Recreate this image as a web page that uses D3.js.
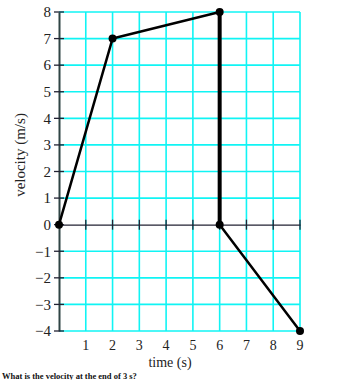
<!DOCTYPE html>
<html><head><meta charset="utf-8">
<script src="https://cdn.jsdelivr.net/npm/d3@7"></script>
<style>body{margin:0;background:#fff}svg{display:block}</style>
</head><body><svg id="c" width="356" height="380"></svg>
<script>
const times = [0, 2, 6, 6, 9];
const velocities = [0, 7, 8, 0, -4];
const xTicks = [1,2,3,4,5,6,7,8,9];
const yTicks = [-4,-3,-2,-1,0,1,2,3,4,5,6,7,8];
const xLabel = "time (s)";
const yLabel = "velocity (m/s)";
const question = "What is the velocity at the end of 3 s?";

const svg = d3.select("#c");
const font = "'Liberation Serif', 'DejaVu Serif', serif";
const x = d3.scaleLinear().domain([0,9]).range([59,300]);
const y = d3.scaleLinear().domain([-4,8]).range([331,12]);

// grid
const g = svg.append("g");
g.selectAll(".vx").data(xTicks).join("line")
  .attr("x1",d=>x(d)).attr("x2",d=>x(d)).attr("y1",y(8)).attr("y2",y(-4))
  .attr("stroke","#10f4f4").attr("stroke-width",1.6);
g.selectAll(".hy").data(yTicks.filter(d=>d!==0)).join("line")
  .attr("x1",x(0)).attr("x2",x(9)).attr("y1",d=>y(d)).attr("y2",d=>y(d))
  .attr("stroke","#10f4f4").attr("stroke-width",1.6);

// x axis at y=0
const xa = svg.append("g").attr("transform",`translate(0,${y(0)})`)
  .call(d3.axisBottom(x).tickValues(xTicks).tickSize(0).tickFormat(""));
xa.select(".domain").attr("stroke","#223").attr("stroke-width",1.3);
svg.append("g").selectAll("line").data(xTicks).join("line")
  .attr("x1",d=>x(d)).attr("x2",d=>x(d)).attr("y1",y(0)-5).attr("y2",y(0)+5)
  .attr("stroke","#223").attr("stroke-width",1.3);

// y axis
const ya = svg.append("g").attr("transform",`translate(${x(0)},0)`)
  .call(d3.axisLeft(y).tickValues(yTicks).tickSize(0).tickFormat(""));
ya.select(".domain").attr("stroke","#2f4444").attr("stroke-width",2);
svg.append("g").selectAll("line").data(yTicks).join("line")
  .attr("x1",x(0)-5).attr("x2",x(0)+5).attr("y1",d=>y(d)).attr("y2",d=>y(d))
  .attr("stroke","#223").attr("stroke-width",1.3);

// tick labels
svg.append("g").selectAll("text").data(yTicks).join("text")
  .attr("x",x(0)-8).attr("y",d=>y(d)).attr("dy","0.35em")
  .attr("text-anchor","end").attr("font-family",font).attr("font-size",15).attr("fill","#222")
  .text(d=>d<0?"\u2212"+Math.abs(d):d);
svg.append("g").selectAll("text").data(xTicks).join("text")
  .attr("x",d=>x(d)).attr("y",350)
  .attr("text-anchor","middle").attr("font-family",font).attr("font-size",14).attr("fill","#222")
  .text(d=>d);

// axis titles
svg.append("text").attr("x",170).attr("y",367).attr("text-anchor","middle")
  .attr("font-family",font).attr("font-size",14).attr("fill","#222").text(xLabel);
svg.append("text").attr("transform",`translate(20,155) rotate(-90)`).attr("dy","0.35em")
  .attr("text-anchor","middle").attr("font-family",font).attr("font-size",15).attr("fill","#222").text(yLabel);
svg.append("text").attr("x",2).attr("y",378.5)
  .attr("font-family",font).attr("font-size",8.5).attr("font-weight","bold").attr("fill","#111").text(question);

// data line
const pts = times.map((t,i)=>[t,velocities[i]]);
for (let i=0;i<pts.length-1;i++){
  const a=pts[i], b=pts[i+1];
  svg.append("line").attr("x1",x(a[0])).attr("y1",y(a[1])).attr("x2",x(b[0])).attr("y2",y(b[1]))
    .attr("stroke","#000").attr("stroke-width", a[0]===b[0]?4:2.5).attr("stroke-linecap","round");
}
svg.append("g").selectAll("circle").data(pts).join("circle")
  .attr("cx",d=>x(d[0])).attr("cy",d=>y(d[1])).attr("r",4).attr("fill","#000");
</script></body></html>
